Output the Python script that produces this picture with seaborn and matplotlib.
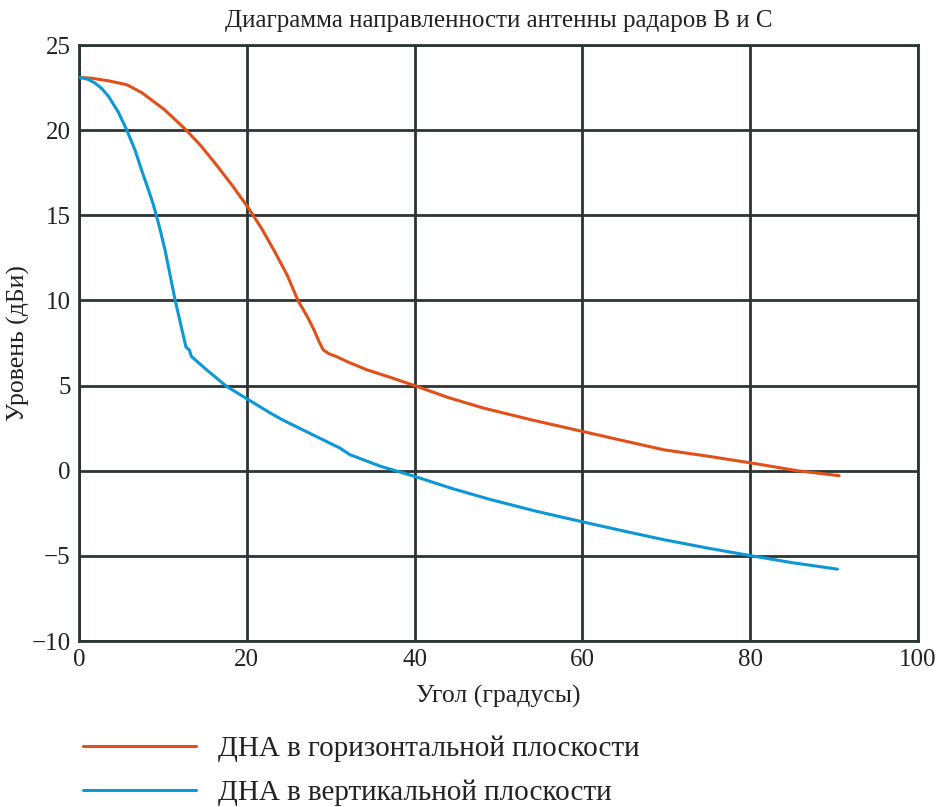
import numpy as np
import pandas as pd
import matplotlib
matplotlib.use("Agg")
import matplotlib.pyplot as plt
import seaborn as sns

# Antenna pattern, horizontal plane (angle in degrees, level in dBi)
h_angle = [0, 1.5, 3.5, 5.7, 7.5, 10.2, 12.8, 14.5, 16.2, 18.2, 20.1, 21.8, 23.4,
           24.8, 26.1, 27.3, 28.0, 28.6, 29.1, 29.8, 30.7, 32.0, 34.3, 37.0,
           40.0, 44.0, 48.2, 54.0, 60.0, 65.0, 69.7, 75.0, 80.2, 85.6, 90.6]
h_level = [23.1, 23.05, 22.9, 22.67, 22.2, 21.2, 20.0, 19.1, 18.07, 16.8, 15.5, 14.2, 12.8,
           11.5, 10.0, 8.97, 8.28, 7.6, 7.1, 6.87, 6.7, 6.4, 5.93, 5.5,
           5.0, 4.3, 3.68, 2.98, 2.31, 1.75, 1.23, 0.85, 0.45, 0.0, -0.29]

# Antenna pattern, vertical plane
v_angle = [0, 1.0, 1.9, 2.7, 3.5, 4.7, 5.7, 6.7, 7.5, 8.1, 8.85, 9.6, 10.25, 11.45, 12.75,
           13.15, 13.4, 15.2, 17.6, 20.2, 22.8, 24.2, 27.5, 31.1, 32.3, 36.0,
           40.0, 44.5, 49.1, 54.5, 60.0, 65.0, 69.7, 75.0, 80.2, 85.0, 90.4]
v_level = [23.1, 23.0, 22.77, 22.45, 22.0, 21.05, 20.0, 18.8, 17.6, 16.75, 15.65, 14.3, 12.98,
           10.04, 7.26, 7.1, 6.71, 5.93, 4.95, 4.17, 3.39, 3.0, 2.2, 1.33, 0.94,
           0.25, -0.33, -1.05, -1.7, -2.38, -3.0, -3.55, -4.05, -4.55, -5.0, -5.4, -5.78]

series_names = ["ДНА в горизонтальной плоскости", "ДНА в вертикальной плоскости"]
series_colors = ["#e2501a", "#0c98d6"]

x_ticks = [0, 20, 40, 60, 80, 100]
y_ticks = [-10, -5, 0, 5, 10, 15, 20, 25]

df = pd.concat([
    pd.DataFrame({"angle": h_angle, "level": h_level, "series": series_names[0]}),
    pd.DataFrame({"angle": v_angle, "level": v_level, "series": series_names[1]}),
], ignore_index=True)

sns.set_theme(style="white")
serif = ["Liberation Serif", "DejaVu Serif"]
plt.rcParams["font.family"] = serif

fig = plt.figure(figsize=(9.47, 8.07), dpi=100)
ax = fig.add_axes([0.0834, 0.2057, 0.886, 0.7385])

sns.lineplot(data=df, x="angle", y="level", hue="series", hue_order=series_names,
             palette=series_colors, linewidth=2.2, sort=False, estimator=None,
             ax=ax, legend=False, zorder=3)

grid_color = "#2b3436"
text_color = "#222222"
ax.set_xlim(0, 100)
ax.set_ylim(-10, 25)
ax.set_xticks(x_ticks)
ax.set_yticks(y_ticks)
ax.set_yticklabels(["\u221210", "\u22125", "0", "5", "10", "15", "20", "25"])
ax.grid(True, color=grid_color, linewidth=2.0)
for s in ax.spines.values():
    s.set_color(grid_color)
    s.set_linewidth(2.0)
ax.tick_params(axis="both", length=0, labelsize=18, colors=text_color, pad=6)

ax.set_xlabel("Угол (градусы)", fontsize=18.5, color=text_color, labelpad=10)
ax.set_ylabel("Уровень (дБи)", fontsize=18.5, color=text_color)
ax.yaxis.set_label_coords(-0.058, 0.5)
ax.set_title("Диаграмма направленности антенны радаров B и C", fontsize=18,
             color=text_color, pad=13)

handles = [plt.Line2D([], [], color=c, linewidth=2.2) for c in series_colors]
fig.legend(handles, series_names, loc="upper left", bbox_to_anchor=(0.075, 0.103),
           frameon=False, prop={"family": serif, "size": 21}, handlelength=3.9,
           handletextpad=0.75, labelspacing=0.6, labelcolor=text_color,
           borderaxespad=0)

fig.savefig("out.png", dpi=100)
